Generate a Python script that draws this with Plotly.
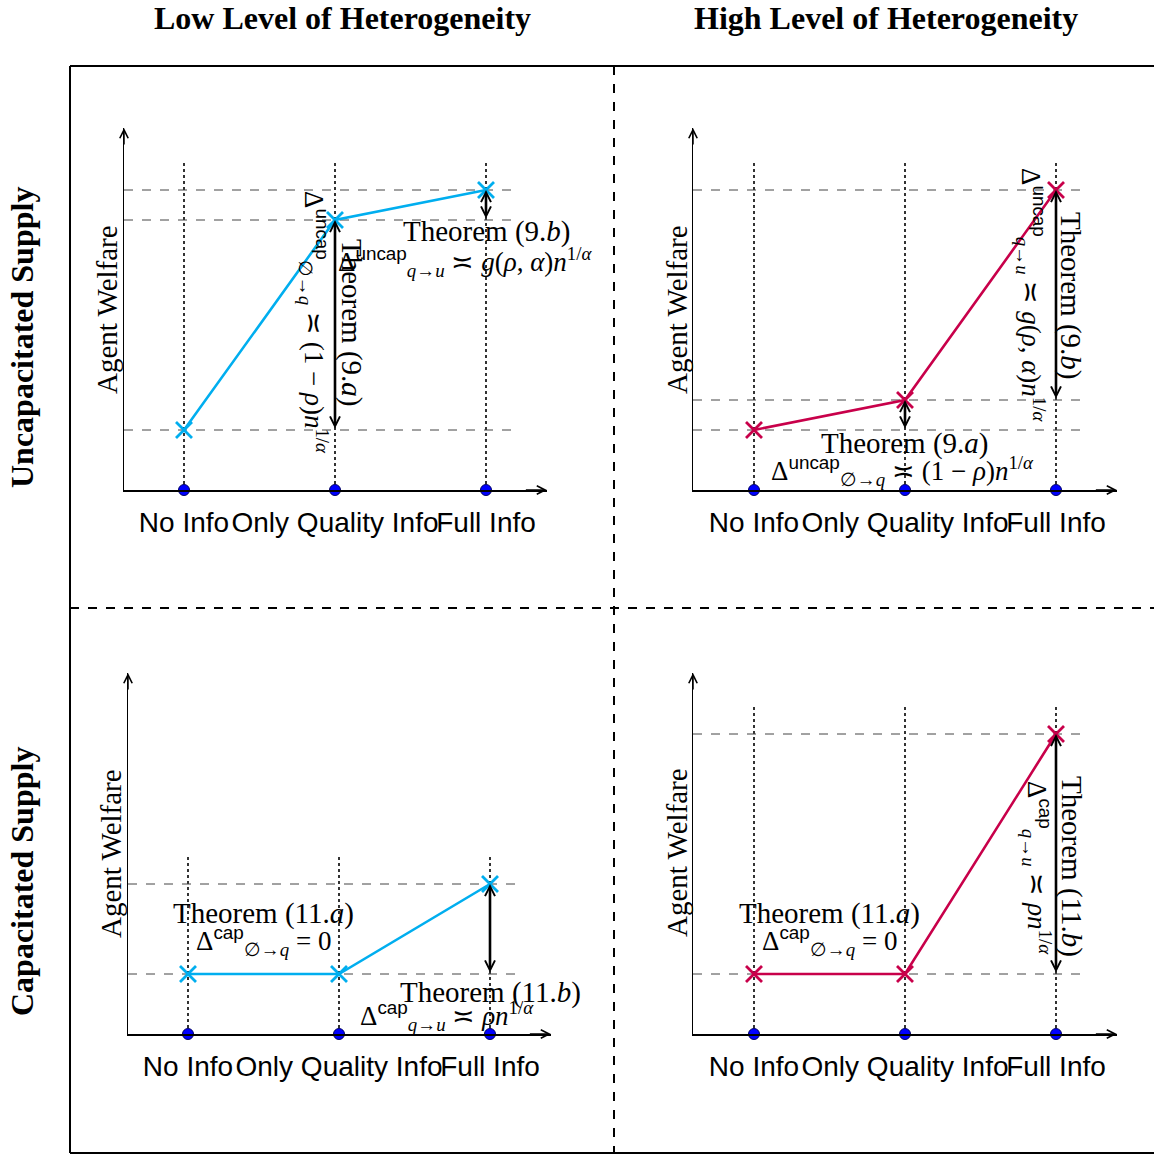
import plotly.graph_objects as go

OFF = 0
W = H = 1154

# ---------------- data ----------------
categories = ["No Info", "Only Quality Info", "Full Info"]
low_uncap = [1.0, 4.5, 5.0]
high_uncap = [1.0, 1.5, 5.0]
low_cap = [1.0, 1.0, 2.5]
high_cap = [1.0, 1.0, 5.0]

col_titles = ["Low Level of Heterogeneity", "High Level of Heterogeneity"]
row_titles = ["Uncapacitated Supply", "Capacitated Supply"]

BLUE = "#00AEEF"
RED = "#C8004A"
SERIF = "Liberation Serif, Times New Roman, serif"
SANS = "Liberation Sans, Arial, sans-serif"


def px(x):
    return (x - OFF) / W


def py(y):
    return 1 - (y - OFF) / H


# panel geometry in window pixels
panels = [
    dict(ax="", yax=124, c0=184, sp=151, xend=547, base=490, top=128, data=low_uncap, color=BLUE),
    dict(ax="2", yax=693, c0=754, sp=151, xend=1117, base=490, top=128, data=high_uncap, color=RED),
    dict(ax="3", yax=128, c0=188, sp=151, xend=551, base=1034, top=673, data=low_cap, color=BLUE),
    dict(ax="4", yax=693, c0=754, sp=151, xend=1117, base=1034, top=673, data=high_cap, color=RED),
]
UNIT = 60.0  # px per welfare unit

fig = go.Figure()
shapes = []
annotations = []
layout_axes = {}

for p in panels:
    xr = [(p["yax"] - p["c0"]) / p["sp"], (p["xend"] - p["c0"]) / p["sp"]]
    yr = [0, (p["base"] - p["top"]) / UNIT]
    xa = "x" + p["ax"]
    ya = "y" + p["ax"]
    xkey = "xaxis" + p["ax"]
    ykey = "yaxis" + p["ax"]
    layout_axes[xkey] = dict(
        domain=[px(p["yax"]), px(p["xend"])], range=xr, anchor=ya,
        showgrid=False, zeroline=False, showline=True, linecolor="black", linewidth=1.5,
        tickvals=[0, 1, 2], ticktext=categories, ticks="outside", ticklen=7, tickangle=0,
        tickcolor="rgba(0,0,0,0)", tickfont=dict(family=SANS, size=28, color="black"),
        automargin=False, fixedrange=True,
    )
    layout_axes[ykey] = dict(
        domain=[py(p["base"]), py(p["top"])], range=yr, anchor=xa,
        showgrid=False, zeroline=False, showline=True, linecolor="black", linewidth=1.5,
        showticklabels=False, ticks="", automargin=False, fixedrange=True,
    )
    vals = p["data"]
    xs = list(range(len(categories)))
    # dotted verticals
    for i in xs:
        shapes.append(dict(type="line", xref=xa, yref=ya, x0=i, x1=i, y0=0, y1=max(vals) + 0.5,
                           line=dict(color="black", width=1.6, dash="dot"), layer="below"))
    # dashed horizontals
    for v in sorted(set(vals)):
        shapes.append(dict(type="line", xref=xa, yref=ya, x0=xr[0], x1=2.19, y0=v, y1=v,
                           line=dict(color="#444", width=1, dash="dash"), layer="below"))
    # axis arrowheads
    annotations.append(dict(xref=xa, yref=ya, axref=xa, ayref=ya, x=xr[1], y=0, ax=xr[1] - 0.15, ay=0,
                            text="", showarrow=True, arrowhead=5, arrowwidth=1.5, arrowsize=1.1,
                            arrowcolor="black"))
    annotations.append(dict(xref=xa, yref=ya, axref=xa, ayref=ya, x=xr[0], y=yr[1], ax=xr[0], ay=yr[1] - 0.3,
                            text="", showarrow=True, arrowhead=5, arrowwidth=1.5, arrowsize=1.1,
                            arrowcolor="black"))
    # welfare line
    fig.add_trace(go.Scatter(
        x=xs, y=vals, xaxis=xa, yaxis=ya, mode="lines+markers",
        line=dict(color=p["color"], width=2.6),
        marker=dict(symbol="x-thin", size=16, line=dict(color=p["color"], width=2.8)),
        cliponaxis=False, showlegend=False, hoverinfo="skip"))
    # category dots on the axis
    fig.add_trace(go.Scatter(
        x=xs, y=[0] * len(xs), xaxis=xa, yaxis=ya, mode="markers",
        marker=dict(symbol="circle", size=11, color="#0000FF", line=dict(color="#000060", width=1)),
        cliponaxis=False, showlegend=False, hoverinfo="skip"))
    # double-headed arrows for each jump
    for i in range(1, len(vals)):
        if vals[i] != vals[i - 1]:
            annotations.append(dict(
                xref=xa, yref=ya, axref=xa, ayref=ya, x=i, y=vals[i], ax=i, ay=vals[i - 1],
                text="", showarrow=True, arrowside="end+start", arrowhead=5, startarrowhead=5,
                arrowwidth=2.6, arrowsize=0.75, startarrowsize=0.75, arrowcolor="black"))

# ---------------- frame ----------------
frame = dict(color="black", width=2)
shapes += [
    dict(type="line", xref="paper", yref="paper", x0=px(70), x1=px(70), y0=py(66), y1=py(1153), line=frame),
    dict(type="line", xref="paper", yref="paper", x0=px(70), x1=px(1170), y0=py(66), y1=py(66), line=frame),
    dict(type="line", xref="paper", yref="paper", x0=px(70), x1=px(1170), y0=py(1153), y1=py(1153), line=frame),
    dict(type="line", xref="paper", yref="paper", x0=px(614), x1=px(614), y0=py(66), y1=py(1170),
         line=dict(color="black", width=2, dash="dash")),
    dict(type="line", xref="paper", yref="paper", x0=px(70), x1=px(1170), y0=py(608), y1=py(608),
         line=dict(color="black", width=2, dash="dash")),
]


def txt(x, y, s, size=29, angle=0, family=SERIF):
    annotations.append(dict(xref="paper", yref="paper", x=px(x), y=py(y), text=s, showarrow=False,
                            xanchor="center", yanchor="middle", textangle=angle,
                            font=dict(family=family, size=size, color="black")))


# titles
txt(342, 18, "<b>" + col_titles[0] + "</b>", size=32)
txt(886, 18, "<b>" + col_titles[1] + "</b>", size=32)
txt(22, 338, "<b>" + row_titles[0] + "</b>", size=32, angle=-90)
txt(22, 882, "<b>" + row_titles[1] + "</b>", size=32, angle=-90)

# y-axis labels
for (x, y) in [(107, 310), (677, 310), (111, 853), (677, 853)]:
    txt(x, y, "Agent Welfare", size=29, angle=-90)

SUP_UNCAP = "<sup><span style='font-family:Liberation Sans'>uncap</span></sup>"
SUP_CAP = "<sup><span style='font-family:Liberation Sans'>cap</span></sup>"
N1A = "<i>n</i><sup>1/<i>α</i></sup>"
D_UN_0Q = "Δ" + SUP_UNCAP + "<sub>∅→<i>q</i></sub> ≍ (1 − <i>ρ</i>)" + N1A
D_UN_QU = "Δ" + SUP_UNCAP + "<sub><i>q</i>→<i>u</i></sub> ≍ <i>g</i>(<i>ρ</i>, <i>α</i>)" + N1A
D_CAP_0Q = "Δ" + SUP_CAP + "<sub>∅→<i>q</i></sub> = 0"
D_CAP_QU = "Δ" + SUP_CAP + "<sub><i>q</i>→<i>u</i></sub> ≍ <i>ρ</i>" + N1A
DS = 27  # size of the formula lines

# top-left
txt(487, 232, "Theorem (9.<i>b</i>)")
txt(465, 262, D_UN_QU, size=DS)
txt(352, 323, "Theorem (9.<i>a</i>)", angle=90)
txt(314, 322, D_UN_0Q, size=DS, angle=90)
# top-right
txt(905, 444, "Theorem (9.<i>a</i>)")
txt(903, 471, D_UN_0Q, size=DS)
txt(1071, 296, "Theorem (9.<i>b</i>)", angle=90)
txt(1031, 295, D_UN_QU, size=DS, angle=90)
# bottom-left
txt(263, 913, "Theorem (11.<i>a</i>)")
txt(263, 941, D_CAP_0Q, size=DS)
txt(490, 992, "Theorem (11.<i>b</i>)")
txt(447, 1016, D_CAP_QU, size=DS)
# bottom-right
txt(829, 913, "Theorem (11.<i>a</i>)")
txt(829, 941, D_CAP_0Q, size=DS)
txt(1072, 866, "Theorem (11.<i>b</i>)", angle=90)
txt(1037, 868, D_CAP_QU, size=DS, angle=90)

fig.update_layout(
    width=W, height=H, margin=dict(l=0, r=0, t=0, b=0),
    paper_bgcolor="white", plot_bgcolor="white",
    shapes=shapes, annotations=annotations, showlegend=False,
    **layout_axes,
)

fig.write_html(
    "out.html",
    config={"displayModeBar": False, "staticPlot": True},
    post_script="document.body.style.margin='0';document.body.style.overflow='hidden';",
)
